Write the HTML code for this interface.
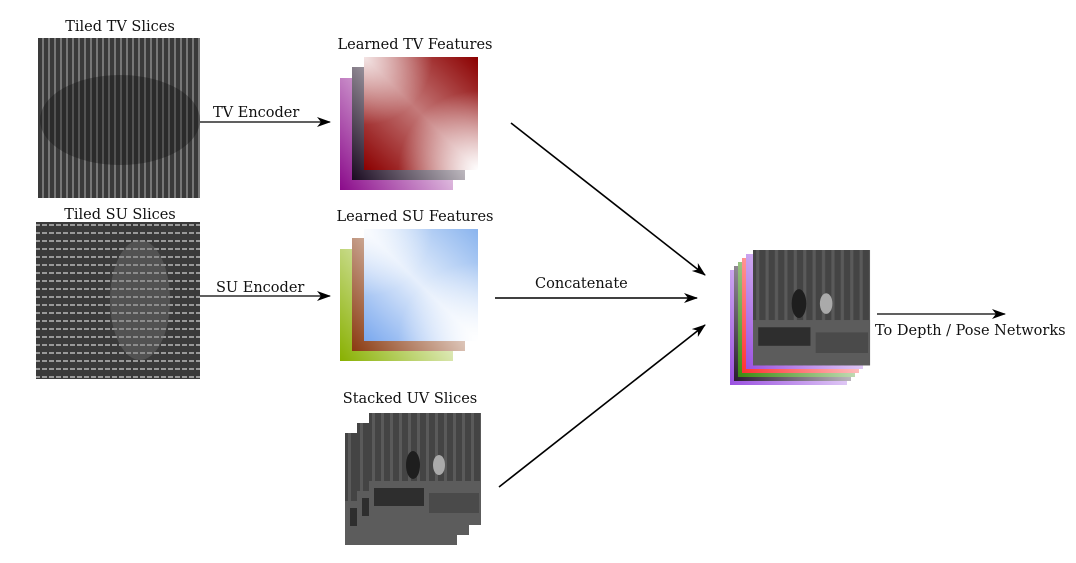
<!DOCTYPE html>
<html><head><meta charset="utf-8"><style>
html,body{margin:0;padding:0;background:#fff;width:1076px;height:563px;overflow:hidden}
text{font-family:"DejaVu Serif","Liberation Serif",serif;font-size:14.5px;fill:#111}
</style></head><body>
<svg width="1076" height="563" viewBox="0 0 1076 563" xmlns="http://www.w3.org/2000/svg">
<defs>
<marker id="ah" markerWidth="14" markerHeight="10" refX="13" refY="5" orient="auto" markerUnits="userSpaceOnUse">
<path d="M0,0 L14,5 L0,10 L4,5 z" fill="#000"/></marker>
<linearGradient id="gRed" x1="0" y1="1" x2="1" y2="0"><stop offset="0" stop-color="#8b0000"/><stop offset="0.5" stop-color="#c47a7a"/><stop offset="1" stop-color="#8b0000"/></linearGradient>
<radialGradient id="gRedW" cx="1" cy="1" r="0.7"><stop offset="0" stop-color="#fff"/><stop offset="1" stop-color="#fff" stop-opacity="0"/></radialGradient>
<radialGradient id="gRedW2" cx="0" cy="0" r="0.6"><stop offset="0" stop-color="#fff" stop-opacity=".8"/><stop offset="1" stop-color="#fff" stop-opacity="0"/></radialGradient>
<linearGradient id="gDark" x1="0" y1="1" x2="1" y2="0.3"><stop offset="0" stop-color="#1a0a20"/><stop offset="1" stop-color="#fff"/></linearGradient>
<linearGradient id="gPur" x1="0" y1="1" x2="1" y2="0.3"><stop offset="0" stop-color="#8a0a8a"/><stop offset="1" stop-color="#fff"/></linearGradient>
<linearGradient id="gBlue" x1="0" y1="1" x2="1" y2="0"><stop offset="0" stop-color="#7aa8ee"/><stop offset="0.5" stop-color="#e6effc"/><stop offset="1" stop-color="#8ab4ee"/></linearGradient>
<linearGradient id="gBrown" x1="0" y1="1" x2="1" y2="0.3"><stop offset="0" stop-color="#8a3a10"/><stop offset="1" stop-color="#fff"/></linearGradient>
<linearGradient id="gGreen" x1="0" y1="1" x2="1" y2="0.3"><stop offset="0" stop-color="#88b000"/><stop offset="1" stop-color="#fff"/></linearGradient>
<linearGradient id="gV" x1="0" y1="1" x2="1" y2="0.3"><stop offset="0" stop-color="#9a50e0"/><stop offset="1" stop-color="#fff"/></linearGradient>
<linearGradient id="gK" x1="0" y1="1" x2="1" y2="0.3"><stop offset="0" stop-color="#2a1a30"/><stop offset="1" stop-color="#fff"/></linearGradient>
<linearGradient id="gG" x1="0" y1="1" x2="1" y2="0.3"><stop offset="0" stop-color="#3a8a10"/><stop offset="1" stop-color="#fff"/></linearGradient>
<linearGradient id="gR" x1="0" y1="1" x2="1" y2="0.3"><stop offset="0" stop-color="#ff3030"/><stop offset="1" stop-color="#fff"/></linearGradient>
<pattern id="stripes" width="6" height="160" patternUnits="userSpaceOnUse"><rect width="6" height="160" fill="#3a3a3a"/><rect width="2" height="160" fill="#777"/></pattern>
<pattern id="stripes2" width="7" height="8" patternUnits="userSpaceOnUse"><rect width="7" height="8" fill="#3a3a3a"/><rect width="5" height="2" fill="#999"/></pattern>
<pattern id="curt" width="9" height="100" patternUnits="userSpaceOnUse"><rect width="9" height="100" fill="#444"/><rect x="3" width="3" height="100" fill="#5a5a5a"/></pattern>
<g id="photo">
<rect width="112" height="112" fill="url(#curt)"/>
<rect y="68" width="112" height="44" fill="#5c5c5c"/>
<rect x="5" y="75" width="50" height="18" fill="#2e2e2e"/>
<rect x="60" y="80" width="50" height="20" fill="#4a4a4a"/>
<ellipse cx="44" cy="52" rx="7" ry="14" fill="#1e1e1e"/>
<ellipse cx="70" cy="52" rx="6" ry="10" fill="#aaa"/>
</g>
</defs>

<rect x="38" y="38" width="162" height="160" fill="url(#stripes)"/>
<ellipse cx="120" cy="120" rx="80" ry="45" fill="#111" opacity=".35"/>
<rect x="36" y="222" width="164" height="157" fill="url(#stripes2)"/>
<ellipse cx="140" cy="300" rx="30" ry="60" fill="#777" opacity=".4"/>
<text x="120" y="31" text-anchor="middle">Tiled TV Slices</text>
<text x="120" y="219" text-anchor="middle">Tiled SU Slices</text>

<rect x="340" y="78" width="113" height="112" fill="url(#gPur)"/>
<rect x="352" y="67" width="113" height="113" fill="url(#gDark)"/>
<rect x="364" y="57" width="114" height="113" fill="url(#gRed)"/>
<rect x="364" y="57" width="114" height="113" fill="url(#gRedW)"/>
<rect x="364" y="57" width="114" height="113" fill="url(#gRedW2)"/>
<text x="415" y="49" text-anchor="middle">Learned TV Features</text>

<rect x="340" y="249" width="113" height="112" fill="url(#gGreen)"/>
<rect x="352" y="238" width="113" height="113" fill="url(#gBrown)"/>
<rect x="364" y="229" width="114" height="112" fill="url(#gBlue)"/>
<rect x="364" y="229" width="114" height="112" fill="url(#gRedW)"/>
<rect x="364" y="229" width="114" height="112" fill="url(#gRedW2)"/>
<text x="415" y="221" text-anchor="middle">Learned SU Features</text>

<use href="#photo" x="345" y="433"/>
<use href="#photo" x="357" y="423"/>
<use href="#photo" x="369" y="413"/>
<text x="410" y="403" text-anchor="middle">Stacked UV Slices</text>

<rect x="730" y="270" width="117" height="115" fill="url(#gV)"/>
<rect x="734" y="266" width="117" height="115" fill="url(#gK)"/>
<rect x="738" y="262" width="117" height="115" fill="url(#gG)"/>
<rect x="742" y="258" width="117" height="115" fill="url(#gR)"/>
<rect x="746" y="254" width="117" height="115" fill="url(#gV)"/>
<g transform="translate(753,250) scale(1.045,1.03)"><use href="#photo"/></g>

<g stroke="#000" stroke-width="1.3" fill="none">
<line x1="200" y1="122" x2="330" y2="122" marker-end="url(#ah)"/>
<line x1="200" y1="296" x2="330" y2="296" marker-end="url(#ah)"/>
<line x1="495" y1="298" x2="697" y2="298" marker-end="url(#ah)" stroke-width="1.6"/>
<line x1="511" y1="123" x2="705" y2="275" marker-end="url(#ah)" stroke-width="1.6"/>
<line x1="499" y1="487" x2="705" y2="325" marker-end="url(#ah)" stroke-width="1.6"/>
<line x1="877" y1="314" x2="1005" y2="314" marker-end="url(#ah)"/>
</g>
<text x="213" y="117">TV Encoder</text>
<text x="216" y="292">SU Encoder</text>
<text x="535" y="288">Concatenate</text>
<text x="875" y="335">To Depth / Pose Networks</text>
</svg>
</body></html>
